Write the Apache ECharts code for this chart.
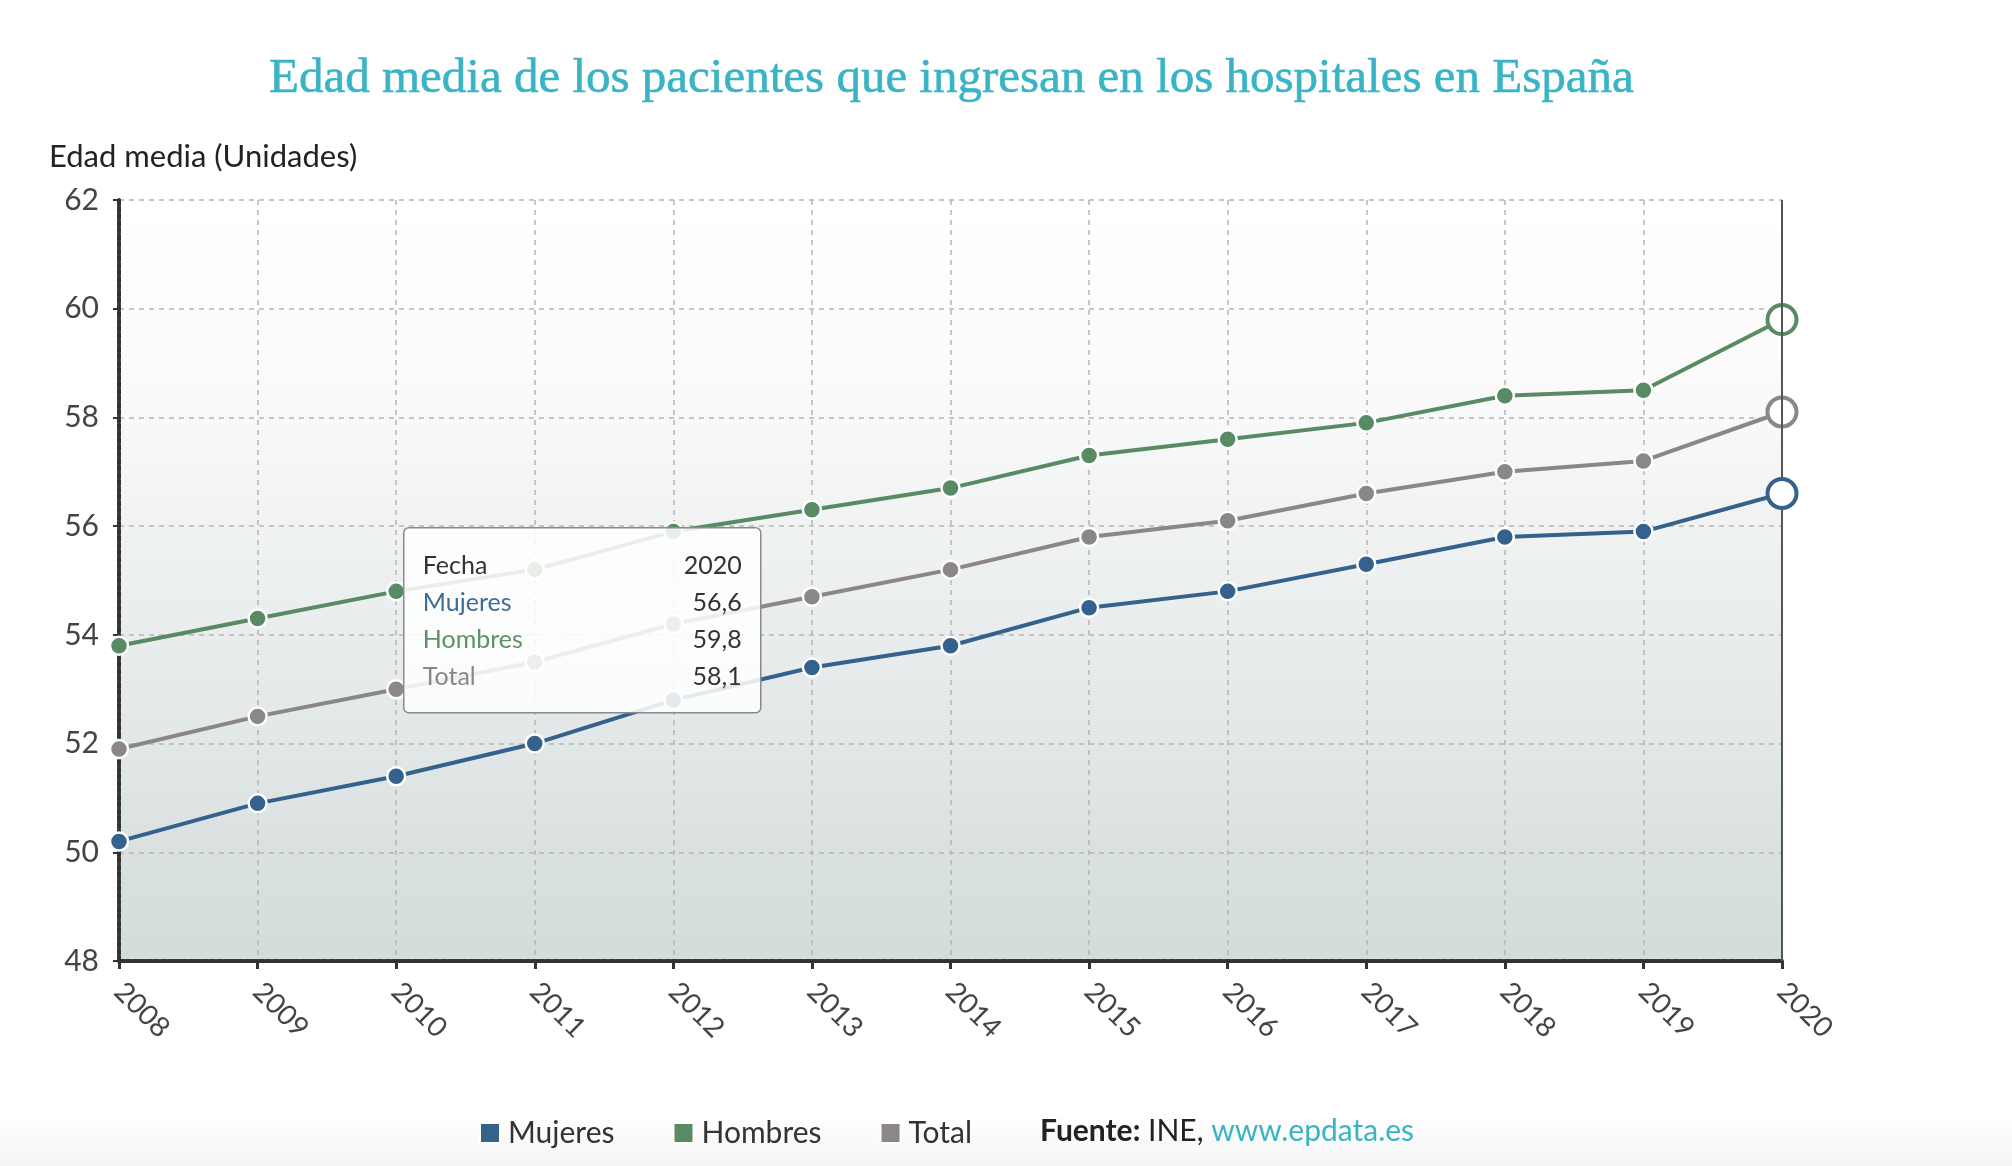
<!DOCTYPE html>
<html>
<head>
<meta charset="utf-8">
<script src="https://cdn.jsdelivr.net/npm/echarts@6/dist/echarts.min.js"></script>
<style>
html,body{margin:0;padding:0;background:#fff;}
#chart{width:2012px;height:1166px;}
</style>
</head>
<body>
<div id="chart"></div>
<script>
var categories = ['2008','2009','2010','2011','2012','2013','2014','2015','2016','2017','2018','2019','2020'];
var mujeres = [50.2,50.9,51.4,52.0,52.8,53.4,53.8,54.5,54.8,55.3,55.8,55.9,56.6];
var hombres = [53.8,54.3,54.8,55.2,55.9,56.3,56.7,57.3,57.6,57.9,58.4,58.5,59.8];
var total = [51.9,52.5,53.0,53.5,54.2,54.7,55.2,55.8,56.1,56.6,57.0,57.2,58.1];
var yTicks = [48,50,52,54,56,58,60,62];

var COL_M = '#34628c', COL_H = '#588b64', COL_T = '#8b8687';
var FONT = 'Lato';

function fmt(v){ return v.toFixed(1).replace('.', ','); }

function seriesData(arr, color){
  return arr.map(function(v, i){
    if (i === arr.length - 1) {
      return {value: v, symbolSize: 29, itemStyle: {color: '#fff', borderColor: color, borderWidth: 4}};
    }
    return v;
  });
}

function mkSeries(name, arr, color, z){
  return {
    name: name, type: 'line', data: seriesData(arr, color), z: z,
    symbol: 'circle', symbolSize: 18, showSymbol: true,
    lineStyle: {color: color, width: 4},
    itemStyle: {color: color, borderColor: '#fff', borderWidth: 2.5},
    emphasis: {disabled: true}
  };
}

var last = categories.length - 1;
var tipRows = [
  {label: 'Fecha', value: categories[last], color: '#333'},
  {label: 'Mujeres', value: fmt(mujeres[last]), color: '#3f6c96'},
  {label: 'Hombres', value: fmt(hombres[last]), color: '#5e9069'},
  {label: 'Total', value: fmt(total[last]), color: '#8b8687'}
];
var tipChildren = [{
  type: 'rect', z: 100, shape: {x: 0, y: 0, width: 357, height: 185, r: 5},
  style: {fill: 'rgba(255,255,255,0.86)', stroke: '#8a8a8a', lineWidth: 1.5}
}];
tipRows.forEach(function(r, i){
  tipChildren.push({type: 'text', z: 101, x: 19, y: 38 + i * 37,
    style: {text: r.label, fill: r.color, font: '400 25px ' + FONT, textVerticalAlign: 'middle', textAlign: 'left'}});
  tipChildren.push({type: 'text', z: 101, x: 338, y: 38 + i * 37,
    style: {text: r.value, fill: '#333', font: '400 25px ' + FONT, textVerticalAlign: 'middle', textAlign: 'right'}});
});

var chart = echarts.init(document.getElementById('chart'), null, {renderer: 'canvas'});
var option = {
  animation: false,
  backgroundColor: {
    type: 'linear', x: 0, y: 0, x2: 0, y2: 1,
    colorStops: [{offset: 0, color: '#ffffff'}, {offset: 0.955, color: '#ffffff'}, {offset: 1, color: '#f5f5f5'}]
  },
  title: {
    text: 'Edad media de los pacientes que ingresan en los hospitales en España',
    left: 264, top: 50,
    textStyle: {fontFamily: 'Liberation Serif', fontWeight: 'normal', fontSize: 49, color: '#3ab4c5',
      textBorderColor: '#3ab4c5', textBorderWidth: 0.6}
  },
  legend: {
    left: 474, top: 1113,
    itemWidth: 20, itemHeight: 20, itemGap: 58,
    icon: 'rect',
    textStyle: {fontFamily: FONT, fontSize: 30, color: '#333', padding: [0,0,0,3]},
    data: ['Mujeres', 'Hombres', 'Total']
  },
  grid: {
    left: 119, right: 2012 - 1782, top: 200, bottom: 1166 - 961,
    show: true, borderWidth: 0,
    backgroundColor: {
      type: 'linear', x: 0, y: 0, x2: 0, y2: 1,
      colorStops: [{offset: 0, color: '#ffffff'}, {offset: 0.25, color: '#fafafa'}, {offset: 1, color: '#d3dbdb'}]
    }
  },
  xAxis: {
    type: 'category', data: categories, boundaryGap: false,
    axisLine: {show: true, lineStyle: {color: '#333', width: 4, type: [5, 2]}},
    axisTick: {show: true, length: 8, lineStyle: {color: '#333', width: 3}},
    axisLabel: {rotate: -45, margin: 26, fontFamily: FONT, fontSize: 28, color: '#444'},
    splitLine: {show: true, lineStyle: {color: '#b5b5b5', width: 1.5, type: [5, 5]}}
  },
  yAxis: {
    type: 'value', min: 48, max: 62, interval: 2,
    axisLine: {show: true, lineStyle: {color: '#333', width: 4, type: [5, 2]}},
    axisTick: {show: true, length: 6, lineStyle: {color: '#333', width: 2}},
    axisLabel: {margin: 20, fontFamily: FONT, fontSize: 30, color: '#444',
      formatter: function(v){ return yTicks.indexOf(v) >= 0 ? String(v) : ''; }},
    splitLine: {show: true, lineStyle: {color: '#b5b5b5', width: 1.5, type: [5, 5]}}
  },
  series: [
    mkSeries('Mujeres', mujeres, COL_M, 5),
    mkSeries('Hombres', hombres, COL_H, 4),
    Object.assign(mkSeries('Total', total, COL_T, 3), {
      markLine: {
        silent: true, symbol: 'none', label: {show: false},
        lineStyle: {color: '#555', width: 2, type: 'solid'},
        data: [{xAxis: categories[last]}]
      }
    })
  ],
  color: [COL_M, COL_H, COL_T],
  graphic: [
    {type: 'text', left: 49, top: 141,
      style: {text: 'Edad media (Unidades)', font: '400 31px ' + FONT, fill: '#222'}},
    {type: 'text', left: 1040, top: 1116,
      style: {
        text: '{a|Fuente:}{b| INE, }{c|www.epdata.es}',
        rich: {
          a: {fontFamily: FONT, fontSize: 30, fontWeight: 'bold', fill: '#222', color: '#222'},
          b: {fontFamily: FONT, fontSize: 30, fill: '#222', color: '#222'},
          c: {fontFamily: FONT, fontSize: 30, fill: '#3ab4c5', color: '#3ab4c5'}
        }
      }},
    {type: 'group', left: 403, top: 527, z: 100, zlevel: 1, children: tipChildren}
  ]
};
chart.setOption(option);
</script>
</body>
</html>
